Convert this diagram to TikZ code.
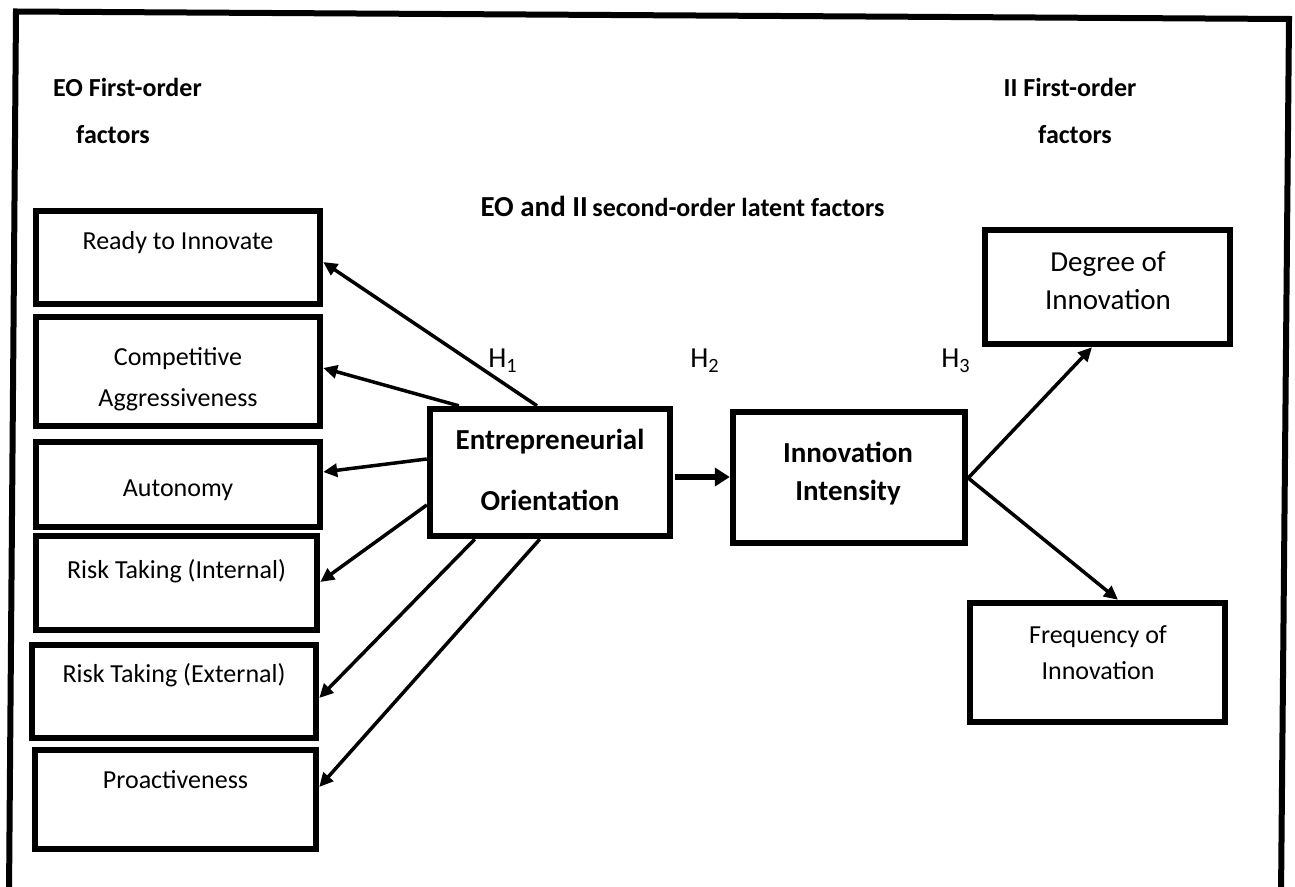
\documentclass[tikz,border=0pt]{standalone}
\usepackage{fontspec}
\setmainfont{Carlito}
\usetikzlibrary{calc,arrows.meta}
\begin{document}
\begin{tikzpicture}[x=0.5pt,y=-0.5pt,
  frame/.style={line width=3pt,line join=miter},
  box/.style 2 args={draw,line width=3.2pt,inner sep=0pt,
    minimum width=#1*0.5pt,minimum height=#2*0.5pt},
  lbl/.style={anchor=base,inner sep=0pt,font=\fontsize{13}{15.6}\selectfont},
  lblbig/.style={anchor=base,inner sep=0pt,font=\fontsize{14.5}{17}\selectfont},
  lblb/.style={anchor=base,inner sep=0pt,font=\fontsize{14.5}{17}\selectfont\bfseries},
  hdr/.style={anchor=base,inner sep=0pt,font=\fontsize{13}{15.6}\selectfont\bfseries},
  arr/.style={line width=1.75pt,-{Triangle[length=7pt,width=6.5pt]}},
  thickarr/.style={line width=3pt,-{Triangle[length=7.5pt,width=9pt]}}]
\useasboundingbox (0,0) rectangle (1295,887);
\fill[white] (0,0) rectangle (1295,887);

% outer frame, open at the bottom
\draw[frame] (9,895) -- (16,11.5) -- (1289,19) -- (1281,895);

% headings
\node[hdr] (eoh1) at (127.5,97) {EO First-order};
\node[hdr] (eoh2) at (113,144) {factors};
\node[hdr] (iih1) at (1070,97) {II First-order};
\node[hdr] (iih2) at (1075,144) {factors};
\node[anchor=base,inner sep=0pt,font=\bfseries] (title) at (682.5,217)
  {{\fontsize{14.5}{17}\selectfont EO and II} {\fontsize{13}{15.6}\selectfont second-order latent factors}};

% first-order EO factors
\node[box={284}{93}]  (ready) at (178,257.5) {};
\node[box={284}{109}] (comp)  at (178,371.5) {};
\node[box={284}{85}]  (auto)  at (178,484.5) {};
\node[box={281}{94}]  (riskI) at (176.5,583) {};
\node[box={284}{93}]  (riskE) at (174,691.5) {};
\node[box={281}{99}]  (pro)   at (175.5,799.5) {};

\node[lbl] (readyt) at (178,250) {Ready to Innovate};
\node[lbl] (compt1) at (178,366) {Competitive};
\node[lbl] (compt2) at (178,407) {Aggressiveness};
\node[lbl] (autot)  at (178,496) {Autonomy};
\node[lbl] (riskIt) at (176.5,578) {Risk Taking (Internal)};
\node[lbl] (riskEt) at (174,682) {Risk Taking (External)};
\node[lbl] (prot)   at (175.5,788) {Proactiveness};

% second-order factors
\node[box={240}{127}] (eo) at (550,472.5) {};
\node[lblb] (eot1) at (550,450) {Entrepreneurial};
\node[lblb] (eot2) at (550,510) {Orientation};

\node[box={232}{131}] (ii) at (849,477.5) {};
\node[lblb] (iit1) at (848,462) {Innovation};
\node[lblb] (iit2) at (848,500) {Intensity};

% first-order II factors
\node[box={245}{114}] (deg) at (1107.5,287) {};
\node[lblbig] (degt1) at (1108,272) {Degree of};
\node[lblbig] (degt2) at (1108,310) {Innovation};

\node[box={255}{119}] (freq) at (1097.5,662.5) {};
\node[lbl] (freqt1) at (1098,643) {Frequency of};
\node[lbl] (freqt2) at (1098,679) {Innovation};

% hypothesis labels
\node[lblbig] (h1) at (503,368) {H\textsubscript{1}};
\node[lblbig] (h2) at (705,368) {H\textsubscript{2}};
\node[lblbig] (h3) at (956,368) {H\textsubscript{3}};

% loadings of EO
\draw[arr] ($(eo.north)+(-13,0)$) -- ($(ready.east)+(0,4.5)$);
\draw[arr] ($(eo.north west)+(32,0)$) -- ($(comp.east)+(0,-3.5)$);
\draw[arr] ($(eo.west)+(0,-13.5)$) -- ($(auto.east)+(0,-12.5)$);
\draw[arr] ($(eo.west)+(0,32.5)$) -- ($(riskI.east)+(0,-1)$);
\draw[arr] ($(eo.south west)+(48,0)$) -- ($(riskE.east)+(0,6.5)$);
\draw[arr] ($(eo.south west)+(113,0)$) -- ($(pro.east)+(0,-12.5)$);

% structural path
\draw[thickarr] ($(eo.east)+(2,4.5)$) -- ($(ii.west)+(0,-0.5)$);

% loadings of II
\coordinate (iiout) at ($(ii.east)+(0,0.5)$);
\draw[arr] (iiout) -- ($(deg.south)+(-15.5,0)$);
\draw[arr] (iiout) -- ($(freq.north)+(20.5,0)$);
\end{tikzpicture}
\end{document}
